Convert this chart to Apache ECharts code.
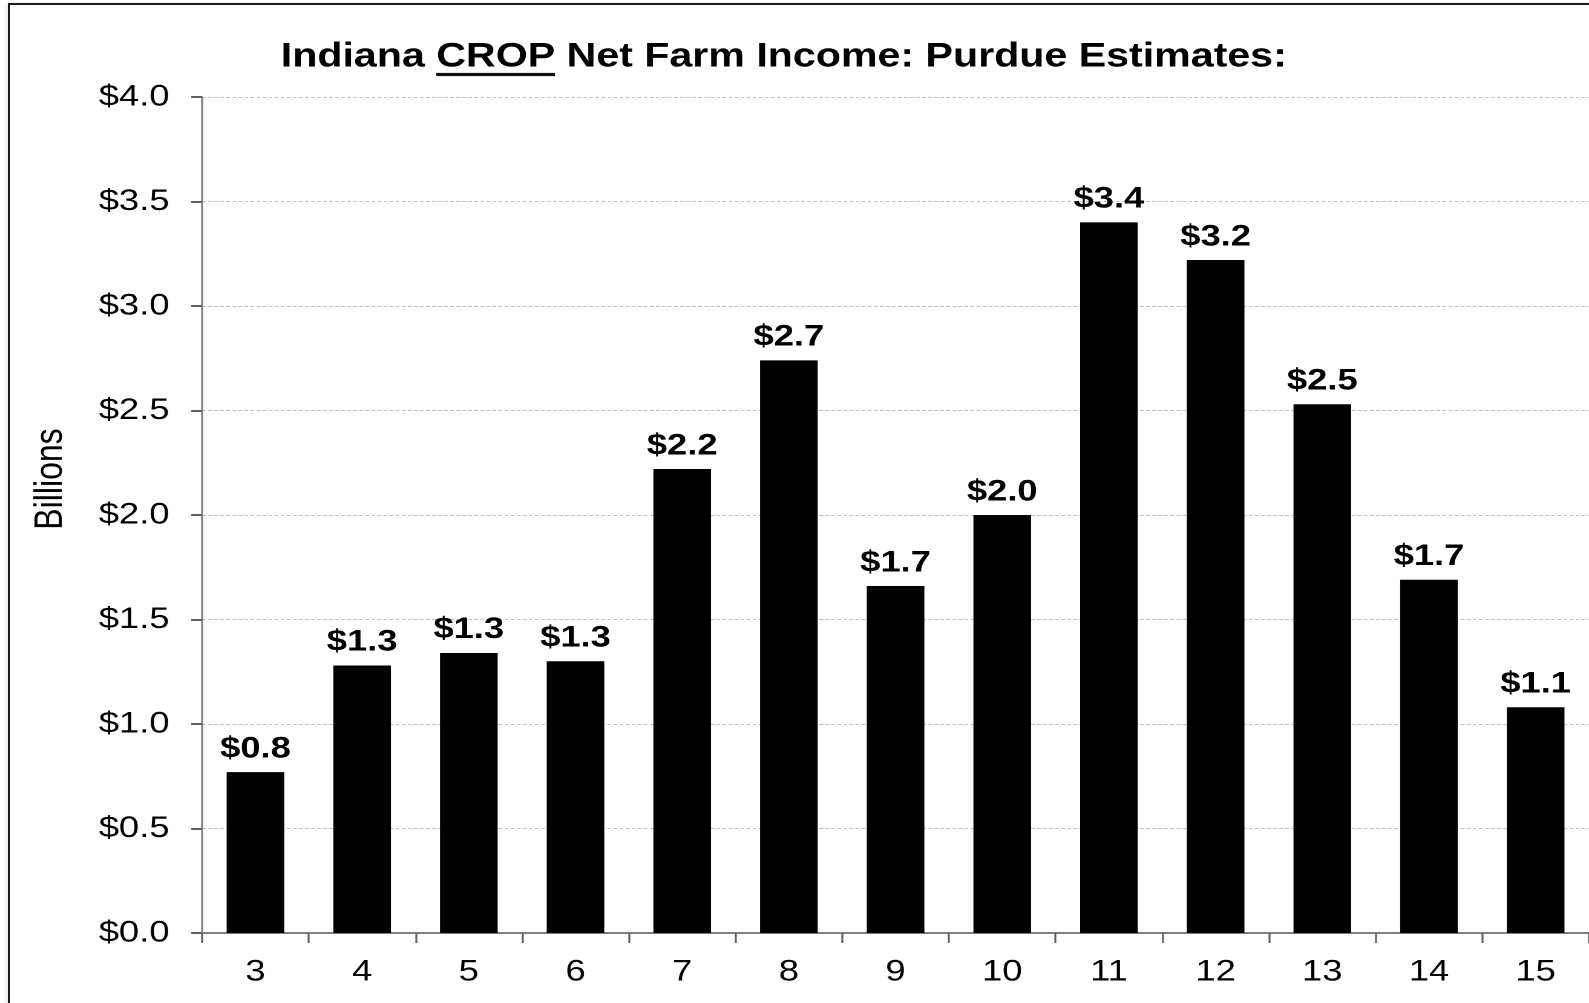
<!DOCTYPE html>
<html>
<head>
<meta charset="utf-8">
<script src="https://cdn.jsdelivr.net/npm/echarts@6/dist/echarts.min.js"></script>
<style>
  html, body { margin: 0; padding: 0; background: #fff; overflow: hidden; }
  /* the reference picture is stretched horizontally (~1.21x); reproduce that display stretch */
  #chart { position: absolute; left: 0; top: 0; width: 1313px; height: 1003px;
           transform: scaleX(1.2102); transform-origin: 0 0; }
  #frame { position: absolute; left: 8px; top: 3px; width: 1700px; height: 1100px;
           border-left: 2px solid #1a1a1a; border-top: 2px solid #1a1a1a;
           box-shadow: -3px 0 4px rgba(0,0,0,0.08); pointer-events: none; }
</style>
</head>
<body>
<div id="chart"></div>
<div id="frame"></div>
<script>
// ---- data ----
const categories = ['3', '4', '5', '6', '7', '8', '9', '10', '11', '12', '13', '14', '15'];
const cropIncome = [0.77, 1.28, 1.34, 1.30, 2.22, 2.74, 1.66, 2.00, 3.40, 3.22, 2.53, 1.69, 1.08];
const yTicks = { min: 0, max: 4, interval: 0.5 };
const titleParts = ['Indiana ', 'CROP', ' Net Farm Income: Purdue Estimates:'];
const yAxisName = 'Billions';

// underline image for rich text (transparent with black band near bottom)
const ul = document.createElement('canvas');
ul.width = 4; ul.height = 48;
const uctx = ul.getContext('2d');
uctx.fillStyle = '#000';
uctx.fillRect(0, 40, 4, 3);

const FONT = '"Liberation Sans", Arial, Helvetica, sans-serif';
const chart = echarts.init(document.getElementById('chart'), null, { devicePixelRatio: 2 });
chart.setOption({
  backgroundColor: '#fff',
  animation: false,
  title: {
    left: 227,
    top: 28,
    text: '{a|' + titleParts[0] + '}{u|' + titleParts[1] + '}{a|' + titleParts[2] + '}',
    textStyle: {
      rich: {
        a: { fontFamily: FONT, fontWeight: 'bold', fontSize: 34, color: '#000', lineHeight: 48, height: 48 },
        u: { fontFamily: FONT, fontWeight: 'bold', fontSize: 34, color: '#000', lineHeight: 48, height: 48,
             backgroundColor: { image: ul } }
      }
    }
  },
  grid: { left: 167, right: -2.5, top: 97, bottom: 70, containLabel: false },
  xAxis: {
    type: 'category',
    data: categories,
    axisLine: { lineStyle: { color: '#808080', width: 2 } },
    axisTick: { show: true, length: 10, alignWithLabel: false, lineStyle: { color: '#606060', width: 1.6 } },
    axisLabel: { fontFamily: FONT, fontSize: 30, color: '#000', margin: 24 }
  },
  yAxis: {
    type: 'value',
    min: yTicks.min, max: yTicks.max, interval: yTicks.interval,
    name: yAxisName,
    nameLocation: 'middle',
    nameRotate: 90,
    nameGap: 109,
    nameTextStyle: { fontFamily: FONT, fontSize: 32, color: '#000', padding: [0, 0, 0, 72] },
    axisLine: { show: true, lineStyle: { color: '#808080', width: 1.6 } },
    axisTick: { show: true, length: 9, lineStyle: { color: '#606060', width: 2 } },
    axisLabel: {
      fontFamily: FONT, fontSize: 30, color: '#000', margin: 27,
      formatter: v => '$' + v.toFixed(1)
    },
    splitLine: { show: true, lineStyle: { color: '#c0c0c0', width: 1, type: [3, 2] } }
  },
  series: [{
    type: 'bar',
    data: cropIncome,
    barWidth: '54%',
    itemStyle: { color: '#000' },
    label: {
      show: true,
      position: 'top',
      distance: 8,
      fontFamily: FONT, fontWeight: 'bold', fontSize: 30, color: '#000',
      formatter: p => '$' + p.value.toFixed(1)
    }
  }]
});
</script>
</body>
</html>
